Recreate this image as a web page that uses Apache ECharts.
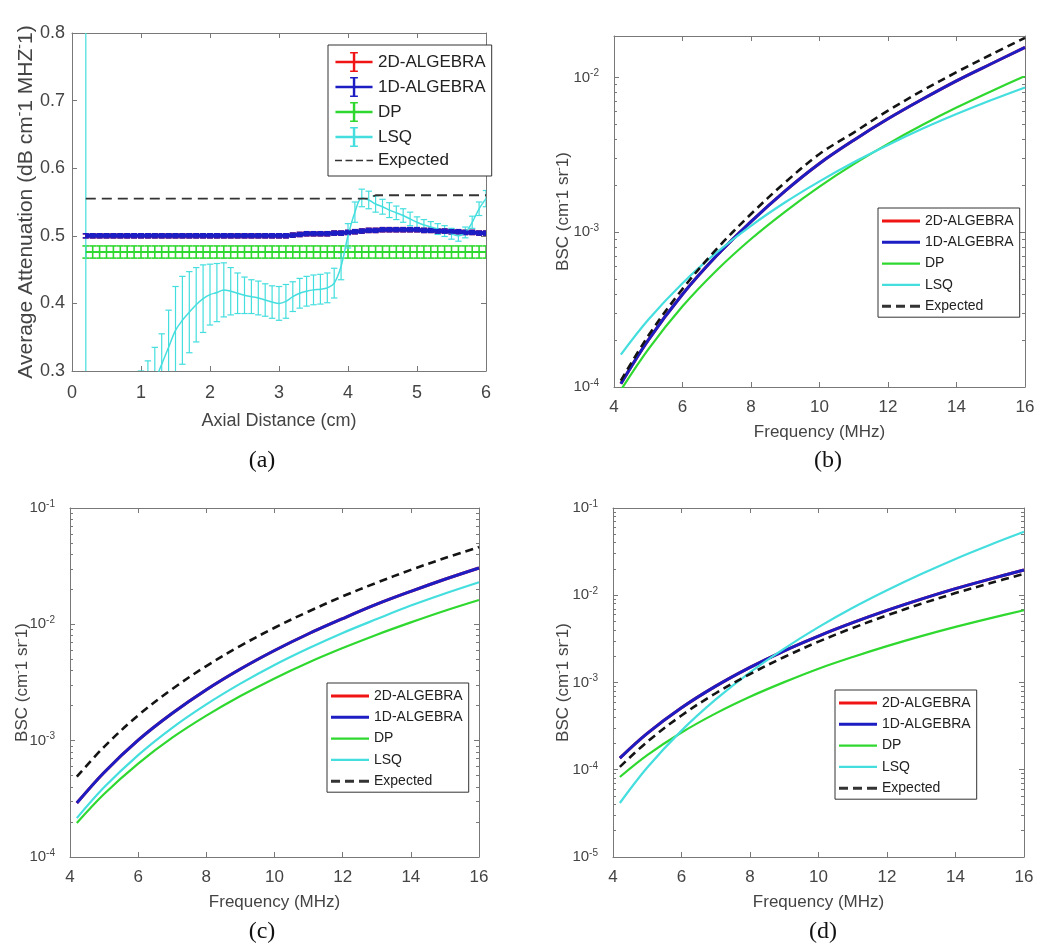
<!DOCTYPE html>
<html><head><meta charset="utf-8">
<script src="https://cdn.jsdelivr.net/npm/echarts@6/dist/echarts.min.js"></script>
<style>html,body{margin:0;padding:0;background:#fff}#c{width:1050px;height:952px}</style>
</head><body><div id="c"></div>
<script>
// ---------- Panel (a): average attenuation vs axial distance ----------
const axialX = [0.2,0.3,0.4,0.5,0.6,0.7,0.8,0.9,
  1.0,1.1,1.2,1.3,1.4,1.5,1.6,1.7,1.8,1.9,
  2.0,2.1,2.2,2.3,2.4,2.5,2.6,2.7,2.8,2.9,
  3.0,3.1,3.2,3.3,3.4,3.5,3.6,3.7,3.8,3.9,
  4.0,4.1,4.2,4.3,4.4,4.5,4.6,4.7,4.8,4.9,
  5.0,5.1,5.2,5.3,5.4,5.5,5.6,5.7,5.8,5.9,6.0];
const lsqMean = [0.20,0.05,0.07,0.09,0.11,0.13,0.16,0.19,
  0.24,0.26,0.285,0.31,0.335,0.36,0.375,0.387,0.398,0.407,
  0.413,0.416,0.42,0.418,0.415,0.412,0.41,0.408,0.405,0.402,
  0.40,0.403,0.41,0.415,0.418,0.42,0.421,0.423,0.43,0.455,
  0.50,0.535,0.556,0.553,0.547,0.543,0.538,0.534,0.53,0.525,
  0.52,0.516,0.513,0.51,0.507,0.503,0.50,0.505,0.52,0.54,0.555];
const lsqErr = [0.9,0.06,0.06,0.06,0.06,0.06,0.06,0.06,
  0.06,0.055,0.05,0.045,0.055,0.065,0.065,0.06,0.055,0.05,
  0.045,0.043,0.04,0.035,0.03,0.027,0.025,0.025,0.024,0.024,
  0.025,0.025,0.022,0.022,0.022,0.022,0.022,0.022,0.022,0.02,
  0.018,0.015,0.013,0.013,0.012,0.011,0.011,0.01,0.01,0.01,
  0.008,0.008,0.008,0.008,0.008,0.008,0.008,0.008,0.009,0.01,0.012];
const alg1DMean = [0.5,0.5,0.5,0.5,0.5,0.5,0.5,0.5,
  0.5,0.5,0.5,0.5,0.5,0.5,0.5,0.5,0.5,0.5,
  0.5,0.5,0.5,0.5,0.5,0.5,0.5,0.5,0.5,0.5,
  0.5,0.5,0.501,0.502,0.503,0.503,0.503,0.503,0.504,0.504,
  0.505,0.506,0.507,0.508,0.508,0.509,0.509,0.509,0.509,0.509,
  0.509,0.508,0.508,0.507,0.507,0.506,0.506,0.505,0.505,0.504,0.504];
const alg1DErr = 0.003;
const alg2DMean = alg1DMean;   // 2D-ALGEBRA lies under 1D-ALGEBRA
const alg2DErr = 0.003;
const dpMean = [0.476,0.476,0.476,0.476,0.476,0.476,0.476,0.476,
  0.476,0.476,0.476,0.476,0.476,0.476,0.476,0.476,0.476,0.476,
  0.476,0.476,0.476,0.476,0.476,0.476,0.476,0.476,0.476,0.476,
  0.476,0.476,0.476,0.476,0.476,0.476,0.476,0.476,0.476,0.476,
  0.476,0.476,0.476,0.476,0.476,0.476,0.476,0.476,0.476,0.476,
  0.476,0.476,0.476,0.476,0.476,0.476,0.476,0.476,0.476,0.476,0.476];
const dpErr = 0.009;
const expectedA = [0.555,0.555,0.555,0.555,0.555,0.555,0.555,0.555,
  0.555,0.555,0.555,0.555,0.555,0.555,0.555,0.555,0.555,0.555,
  0.555,0.555,0.555,0.555,0.555,0.555,0.555,0.555,0.555,0.555,
  0.555,0.555,0.555,0.555,0.555,0.555,0.555,0.555,0.555,0.555,
  0.555,0.555,0.555,0.555,0.56,0.56,0.56,0.56,0.56,0.56,
  0.56,0.56,0.56,0.56,0.56,0.56,0.56,0.56,0.56,0.56,0.56];
const axialTicks = {min:0, max:6, interval:1};
const attenTicks = {min:0.3, max:0.8, interval:0.1};

// ---------- Panels (b)-(d): BSC vs frequency ----------
const freq = [4.2,5,6,7,8,9,10,11,12,13,14,15,16];
const bAlg1D = [1.05e-4,2.01e-4,3.97e-4,7.06e-4,1.17e-3,1.85e-3,2.78e-3,3.93e-3,5.40e-3,7.22e-3,9.50e-3,1.22e-2,1.56e-2];
const bAlg2D = bAlg1D;
const bDP    = [9.55e-5,1.75e-4,3.32e-4,5.68e-4,9.04e-4,1.36e-3,1.97e-3,2.75e-3,3.72e-3,4.92e-3,6.38e-3,8.11e-3,1.02e-2];
const bLSQ   = [1.62e-4,2.72e-4,4.68e-4,7.40e-4,1.10e-3,1.56e-3,2.13e-3,2.83e-3,3.66e-3,4.65e-3,5.79e-3,7.11e-3,8.61e-3];
const bExp   = [1.10e-4,2.14e-4,4.30e-4,7.80e-4,1.31e-3,2.10e-3,3.20e-3,4.40e-3,6.10e-3,8.20e-3,1.08e-2,1.40e-2,1.80e-2];

const cAlg1D = [2.91e-4,5.33e-4,1.01e-3,1.72e-3,2.74e-3,4.13e-3,5.96e-3,8.30e-3,1.12e-2,1.49e-2,1.92e-2,2.44e-2,3.05e-2];
const cAlg2D = cAlg1D;
const cDP    = [1.96e-4,3.48e-4,6.35e-4,1.06e-3,1.64e-3,2.42e-3,3.43e-3,4.70e-3,6.25e-3,8.15e-3,1.04e-2,1.31e-2,1.62e-2];
const cLSQ   = [2.16e-4,3.97e-4,7.52e-4,1.29e-3,2.05e-3,3.09e-3,4.47e-3,6.22e-3,8.43e-3,1.11e-2,1.45e-2,1.84e-2,2.30e-2];
const cExp   = [4.90e-4,8.85e-4,1.65e-3,2.78e-3,4.38e-3,6.53e-3,9.35e-3,1.29e-2,1.74e-2,2.28e-2,2.94e-2,3.71e-2,4.62e-2];

const dAlg1D = [1.36e-4,2.61e-4,5.13e-4,9.08e-4,1.49e-3,2.31e-3,3.41e-3,4.85e-3,6.70e-3,9.02e-3,1.19e-2,1.53e-2,1.95e-2];
const dAlg2D = dAlg1D;
const dDP    = [8.26e-5,1.47e-4,2.67e-4,4.43e-4,6.87e-4,1.01e-3,1.44e-3,1.96e-3,2.61e-3,3.40e-3,4.34e-3,5.44e-3,6.73e-3];
const dLSQ   = [4.16e-5,1.06e-4,2.81e-4,6.40e-4,1.31e-3,2.45e-3,4.31e-3,7.18e-3,1.14e-2,1.75e-2,2.61e-2,3.77e-2,5.33e-2];
const dExp   = [1.08e-4,2.09e-4,4.19e-4,7.53e-4,1.25e-3,1.96e-3,2.94e-3,4.22e-3,5.87e-3,7.98e-3,1.06e-2,1.37e-2,1.76e-2];

const freqTicks = {min:4, max:16, interval:2};
const bscRangeB = {min:1e-4, max:0.0185};
const bscRangeC = {min:1e-4, max:1e-1};
const bscRangeD = {min:1e-5, max:1e-1};

const legendNames = ['2D-ALGEBRA','1D-ALGEBRA','DP','LSQ','Expected'];
const captions = ['(a)','(b)','(c)','(d)'];

// ---------- styling ----------
const FF = '"Liberation Sans", Arial, sans-serif';
const C = {red:'#f01414', blue:'#1d1dc4', green:'#2fd82f', cyan:'#45dede', black:'#141414'};
const AX = '#787878', LBL = '#444';

const pairs = (xs, ys) => xs.map((x, i) => [x, ys[i]]);
const triples = (xs, ys, es) => xs.map((x, i) => [x, ys[i], Array.isArray(es) ? es[i] : es]);

function errRender(capHalf, lw) {
  return function (params, api) {
    const x = api.value(0), m = api.value(1), e = api.value(2);
    const t = api.coord([x, m + e]), b = api.coord([x, m - e]);
    const col = api.visual('color');
    const st = {stroke: col, lineWidth: lw};
    return {type: 'group', children: [
      {type: 'line', shape: {x1: t[0], y1: t[1], x2: b[0], y2: b[1]}, style: st},
      {type: 'line', shape: {x1: t[0] - capHalf, y1: t[1], x2: t[0] + capHalf, y2: t[1]}, style: st},
      {type: 'line', shape: {x1: b[0] - capHalf, y1: b[1], x2: b[0] + capHalf, y2: b[1]}, style: st}
    ]};
  };
}

const supRich = (fs) => ({
  n: {fontSize: fs, color: LBL, fontFamily: FF},
  s: {fontSize: Math.round(fs * 0.65), color: LBL, fontFamily: FF, padding: [0, 0, Math.round(fs * 0.55), 0]}
});
function logFmt(v) {
  const l = Math.log10(v), e = Math.round(l);
  if (Math.abs(l - e) > 1e-6) return '';
  return '{n|10}{s|' + e + '}';
}

function xPair(gi, ticks, name, gap, fs, nfs, margin) {
  const common = {type: 'value', gridIndex: gi, min: ticks.min, max: ticks.max, interval: ticks.interval,
    axisLine: {show: true, onZero: false, lineStyle: {color: AX, width: 1}},
    axisTick: {show: true, inside: true, length: 5, lineStyle: {color: AX}},
    splitLine: {show: false}};
  return [
    Object.assign({}, common, {position: 'bottom', name: name, nameLocation: 'middle', nameGap: gap,
      nameMoveOverlap: false,
      nameTextStyle: {fontSize: nfs, color: LBL, fontFamily: FF},
      axisLabel: {margin: margin, fontSize: fs, color: LBL, fontFamily: FF}}),
    Object.assign({}, common, {position: 'top', axisLabel: {show: false}})
  ];
}
function yPairLin(gi, ticks, name, gap, fs, nfs) {
  const common = {type: 'value', gridIndex: gi, min: ticks.min, max: ticks.max, interval: ticks.interval,
    axisLine: {show: true, onZero: false, lineStyle: {color: AX, width: 1}},
    axisTick: {show: true, inside: true, length: 5, lineStyle: {color: AX}},
    splitLine: {show: false}};
  return [
    Object.assign({}, common, {position: 'left', name: name, nameLocation: 'middle', nameGap: gap,
      nameMoveOverlap: false,
      nameTextStyle: {fontSize: nfs, color: LBL, fontFamily: FF, rich: supRich(nfs)},
      axisLabel: {margin: 7, fontSize: fs, color: LBL, fontFamily: FF, formatter: v => v.toFixed(1)}}),
    Object.assign({}, common, {position: 'right', axisLabel: {show: false}})
  ];
}
function yPairLog(gi, range, name, gap, fs, lfs) {
  const common = {type: 'log', logBase: 10, gridIndex: gi, min: range.min, max: range.max,
    axisLine: {show: true, onZero: false, lineStyle: {color: AX, width: 1}},
    axisTick: {show: true, inside: true, length: 5, lineStyle: {color: AX}},
    minorTick: {show: true, splitNumber: 9, length: 3, lineStyle: {color: AX}},
    splitLine: {show: false}, minorSplitLine: {show: false}};
  return [
    Object.assign({}, common, {position: 'left', name: name, nameLocation: 'middle', nameGap: gap,
      nameMoveOverlap: false,
      nameTextStyle: {fontSize: fs, color: LBL, fontFamily: FF, rich: supRich(fs)},
      axisLabel: {margin: 15, formatter: logFmt, rich: supRich(lfs)}}),
    Object.assign({}, common, {position: 'right', axisLabel: {show: false}})
  ];
}

const bscName = '{n|BSC (cm}{s|-}{n|1 sr}{s|-}{n|1)}';
const attName = '{n|Average Attenuation (dB cm}{s|-}{n|1 MHZ}{s|-}{n|1)}';

const xAxis = [].concat(
  xPair(0, axialTicks, 'Axial Distance (cm)', 41, 18, 18, 13),
  xPair(1, freqTicks, 'Frequency (MHz)', 37, 17, 17, 12),
  xPair(2, freqTicks, 'Frequency (MHz)', 37, 17, 17, 12),
  xPair(3, freqTicks, 'Frequency (MHz)', 37, 17, 17, 12));
const yAxis = [].concat(
  yPairLin(0, attenTicks, attName, 33, 18, 21),
  yPairLog(1, bscRangeB, bscName, 41, 17, 15),
  yPairLog(2, bscRangeC, bscName, 38, 17, 15),
  yPairLog(3, bscRangeD, bscName, 40, 17, 15));

function lineS(name, xi, data, color, width, dashed, smooth) {
  return {name: name, type: 'line', xAxisIndex: xi, yAxisIndex: xi, data: data, symbol: 'none',
    smooth: smooth ? 0.35 : false, clip: true, silent: true,
    lineStyle: {color: color, width: width, type: dashed ? dashed : 'solid'}, itemStyle: {color: color}};
}
function errS(name, data, color, capHalf, lw) {
  return {name: name, type: 'custom', xAxisIndex: 0, yAxisIndex: 0, data: data, clip: true, silent: true,
    encode: {x: 0, y: 1}, itemStyle: {color: color}, renderItem: errRender(capHalf, lw)};
}
function freqSeries(xi, a2, a1, dp, lsq, ex) {
  return [
    lineS('2D-ALGEBRA', xi, pairs(freq, a2), C.red, 3, false, true),
    lineS('1D-ALGEBRA', xi, pairs(freq, a1), C.blue, 3, false, true),
    lineS('DP', xi, pairs(freq, dp), C.green, 2.2, false, true),
    lineS('LSQ', xi, pairs(freq, lsq), C.cyan, 2.2, false, true),
    lineS('Expected', xi, pairs(freq, ex), C.black, 2.6, [8, 5], true)
  ];
}

const series = [
  lineS('2D-ALGEBRA', 0, pairs(axialX, alg2DMean), C.red, 3, false, false),
  errS('2D err', triples(axialX, alg2DMean, alg2DErr), C.red, 3, 1.5),
  errS('DP err', triples(axialX, dpMean, dpErr), C.green, 3.4, 1.6),
  lineS('DP', 0, pairs(axialX, dpMean), C.green, 2, false, false),
  errS('LSQ err', triples(axialX, lsqMean, lsqErr), C.cyan, 3.2, 1.2),
  lineS('LSQ', 0, pairs(axialX, lsqMean), C.cyan, 1.5, false, true),
  errS('1D err', triples(axialX, alg1DMean, alg1DErr), C.blue, 3, 1.6),
  lineS('1D-ALGEBRA', 0, pairs(axialX, alg1DMean), C.blue, 4, false, false),
  lineS('Expected', 0, pairs(axialX, expectedA), '#333', 1.8, [10, 6], false)
].concat(
  freqSeries(2, bAlg2D, bAlg1D, bDP, bLSQ, bExp),
  freqSeries(4, cAlg2D, cAlg1D, cDP, cLSQ, cExp),
  freqSeries(6, dAlg2D, dAlg1D, dDP, dLSQ, dExp));

// error-bar legend icon and line icons
const icoEB = 'path://M0,9H38V11.5H0Z M17.8,1H20.3V19.5H17.8Z M15,0H23V1.6H15Z M15,18.9H23V20.5H15Z';
const icoDashA = 'path://M0,0H7V1.6H0Z M10.5,0H17.5V1.6H10.5Z M21,0H28V1.6H21Z M31.5,0H38V1.6H31.5Z';
const icoThick = 'path://M0,0H38V3H0Z';
const icoThin = 'path://M0,0H38V2.2H0Z';
const icoDash = 'path://M0,0H9V3H0Z M14,0H23V3H14Z M28,0H38V3H28Z';

function legendBox(left, top, big) {
  const icons = big ? [icoEB, icoEB, icoEB, icoEB, icoDashA] : [icoThick, icoThick, icoThin, icoThin, icoDash];
  return {left: left, top: top, orient: 'vertical', selectedMode: false,
    itemWidth: 38, itemHeight: big ? 20 : 14, itemGap: big ? 5 : 7.3,
    padding: big ? [7, 6, 7, 7] : [6, 6, 4, 4],
    borderColor: '#333', borderWidth: 1, backgroundColor: '#fff',
    itemStyle: {borderWidth: 0}, lineStyle: {width: 0},
    textStyle: {fontSize: big ? 17 : 14, color: '#222', fontFamily: FF},
    data: legendNames.map((n, i) => ({name: n, icon: icons[i]}))};
}

const capPos = [[262, 461], [828, 461], [262, 932], [823, 932]];

const option = {
  animation: false,
  backgroundColor: '#fff',
  grid: [
    {left: 72, top: 33, width: 414, height: 338, outerBoundsMode: 'none'},
    {left: 614, top: 36, width: 411, height: 351, outerBoundsMode: 'none'},
    {left: 70, top: 508, width: 409, height: 349, outerBoundsMode: 'none'},
    {left: 613, top: 508, width: 411, height: 349, outerBoundsMode: 'none'}
  ],
  xAxis: xAxis,
  yAxis: yAxis,
  legend: [legendBox(328, 45, true), legendBox(878, 208, false), legendBox(327, 683, false), legendBox(835, 690, false)],
  graphic: captions.map((t, i) => ({type: 'text', x: capPos[i][0], y: capPos[i][1], silent: true,
    style: {text: t, fontSize: 24, fontFamily: '"Liberation Serif", "Times New Roman", serif', fill: '#111',
      align: 'center', verticalAlign: 'middle'}})),
  series: series
};

const chart = echarts.init(document.getElementById('c'), null, {renderer: 'canvas'});
chart.setOption(option);
</script></body></html>
